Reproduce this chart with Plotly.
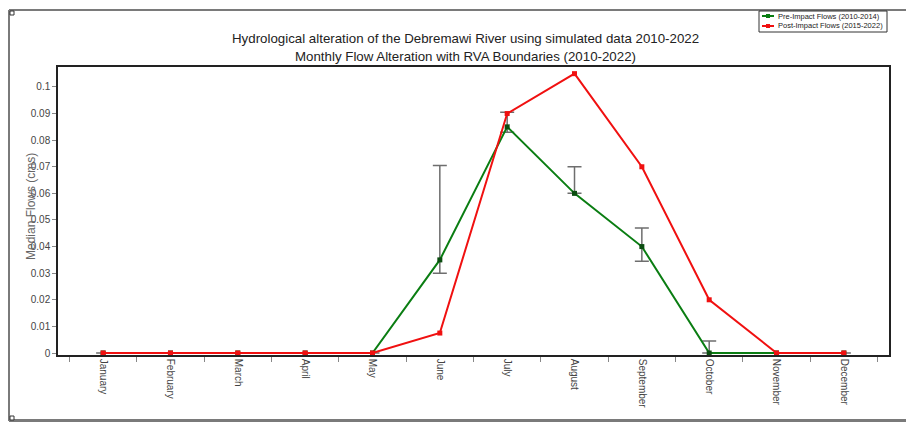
import plotly.graph_objects as go

months = ["January", "February", "March", "April", "May", "June", "July",
          "August", "September", "October", "November", "December"]
pre_impact = [0, 0, 0, 0, 0, 0.035, 0.085, 0.060, 0.040, 0, 0, 0]
post_impact = [0, 0, 0, 0, 0, 0.0075, 0.090, 0.105, 0.070, 0.020, 0, 0]
rva_lower = [None, None, None, None, None, 0.030, 0.083, 0.060, 0.0345, 0.0, None, None]
rva_upper = [None, None, None, None, None, 0.0705, 0.0905, 0.070, 0.047, 0.0045, None, None]
y_ticks = [0, 0.01, 0.02, 0.03, 0.04, 0.05, 0.06, 0.07, 0.08, 0.09, 0.1]

W, H = 906, 422
L, R, T, B = 58, 889, 67, 355   # plot area in pixels


def px(xp):
    return (xp - L) / (R - L)


def py(yp):
    return (B - yp) / (B - T)


err_plus = [None if u is None else u - v for u, v in zip(rva_upper, pre_impact)]
err_minus = [None if lo is None else v - lo for lo, v in zip(rva_lower, pre_impact)]

FONT = "Liberation Sans, Arial, sans-serif"
GREEN = "#0a7d12"
RED = "#f01010"

fig = go.Figure()
fig.add_trace(go.Scatter(
    x=months, y=pre_impact, mode="lines+markers", name="Pre-Impact Flows (2010-2014)",
    line=dict(color=GREEN, width=2), marker=dict(symbol="square", size=5, color="#0b4d10"),
    error_y=dict(type="data", array=err_plus, arrayminus=err_minus, symmetric=False,
                 color="#6e6e6e", thickness=1.5, width=7),
    showlegend=False))
fig.add_trace(go.Scatter(
    x=months, y=post_impact, mode="lines+markers", name="Post-Impact Flows (2015-2022)",
    line=dict(color=RED, width=2), marker=dict(symbol="square", size=5, color=RED),
    showlegend=False))

shapes = []
frame_col = "#7a7a7a"
# outer frame
shapes.append(dict(type="line", xref="paper", yref="paper", x0=px(9), x1=px(9), y0=py(421), y1=py(10),
                   line=dict(color=frame_col, width=2)))
shapes.append(dict(type="line", xref="paper", yref="paper", x0=px(9), x1=px(906), y0=py(10), y1=py(10),
                   line=dict(color=frame_col, width=2)))
shapes.append(dict(type="line", xref="paper", yref="paper", x0=px(9), x1=px(906), y0=py(420.5), y1=py(420.5),
                   line=dict(color=frame_col, width=3)))
for cy in (13, 418):
    shapes.append(dict(type="rect", xref="paper", yref="paper", x0=px(10), x1=px(14), y0=py(cy + 2), y1=py(cy - 2),
                       line=dict(color="#333", width=1), fillcolor="white"))
# legend box
shapes.append(dict(type="rect", xref="paper", yref="paper", x0=px(759), x1=px(887), y0=py(32), y1=py(11),
                   line=dict(color="#333", width=1), fillcolor="white", layer="above"))
for yy, col in ((16, GREEN), (26, RED)):
    shapes.append(dict(type="line", xref="paper", yref="paper", x0=px(762), x1=px(774), y0=py(yy), y1=py(yy),
                       line=dict(color=col, width=2), layer="above"))
    shapes.append(dict(type="rect", xref="paper", yref="paper", x0=px(766), x1=px(770), y0=py(yy + 2), y1=py(yy - 2),
                       line=dict(color=col, width=0), fillcolor=col, layer="above"))

annotations = [
    dict(text="Hydrological alteration of the Debremawi River using simulated data 2010-2022",
         xref="paper", yref="paper", x=px(465), y=py(38), xanchor="center", yanchor="middle",
         showarrow=False, font=dict(family=FONT, size=13.3, color="#222")),
    dict(text="Monthly Flow Alteration with RVA Boundaries (2010-2022)",
         xref="paper", yref="paper", x=px(465), y=py(56), xanchor="center", yanchor="middle",
         showarrow=False, font=dict(family=FONT, size=13.3, color="#222")),
    dict(text="Median Flows (cms)", xref="paper", yref="paper", x=px(31), y=py(207), textangle=-90,
         xanchor="center", yanchor="middle",
         showarrow=False, font=dict(family=FONT, size=12, color="#666")),
    dict(text="Pre-Impact Flows (2010-2014)", xref="paper", yref="paper", x=px(776), y=py(16),
         xanchor="left", yanchor="middle", showarrow=False, font=dict(family=FONT, size=7.5, color="#222")),
    dict(text="Post-Impact Flows (2015-2022)", xref="paper", yref="paper", x=px(776), y=py(26),
         xanchor="left", yanchor="middle", showarrow=False, font=dict(family=FONT, size=7.5, color="#222")),
]

fig.update_layout(
    width=W, height=H,
    margin=dict(l=L, r=W - R, t=T, b=H - B, pad=0),
    paper_bgcolor="white", plot_bgcolor="white",
    font=dict(family=FONT, size=10, color="#333"),
    shapes=shapes, annotations=annotations,
    xaxis=dict(type="category", categoryorder="array", categoryarray=months,
               range=[-0.67, 11.67], tickson="boundaries", ticks="outside", ticklen=5,
               tickcolor="#888", tickangle=90, showgrid=False, zeroline=False,
               showline=True, linecolor="#222", linewidth=1.5, mirror=True,
               tickfont=dict(family=FONT, size=10, color="#444")),
    yaxis=dict(range=[-0.00075, 0.1075], tickvals=y_ticks,
               ticktext=["0", "0.01", "0.02", "0.03", "0.04", "0.05", "0.06", "0.07", "0.08", "0.09", "0.1"],
               ticks="outside", ticklen=4, tickcolor="#888", showgrid=False, zeroline=False,
               showline=True, linecolor="#222", linewidth=1.5, mirror=True,
               tickfont=dict(family=FONT, size=10, color="#444")),
)

fig.write_html("out.html", config={"displayModeBar": False},
               post_script="document.body.style.margin='0px';document.body.style.overflow='hidden';")
